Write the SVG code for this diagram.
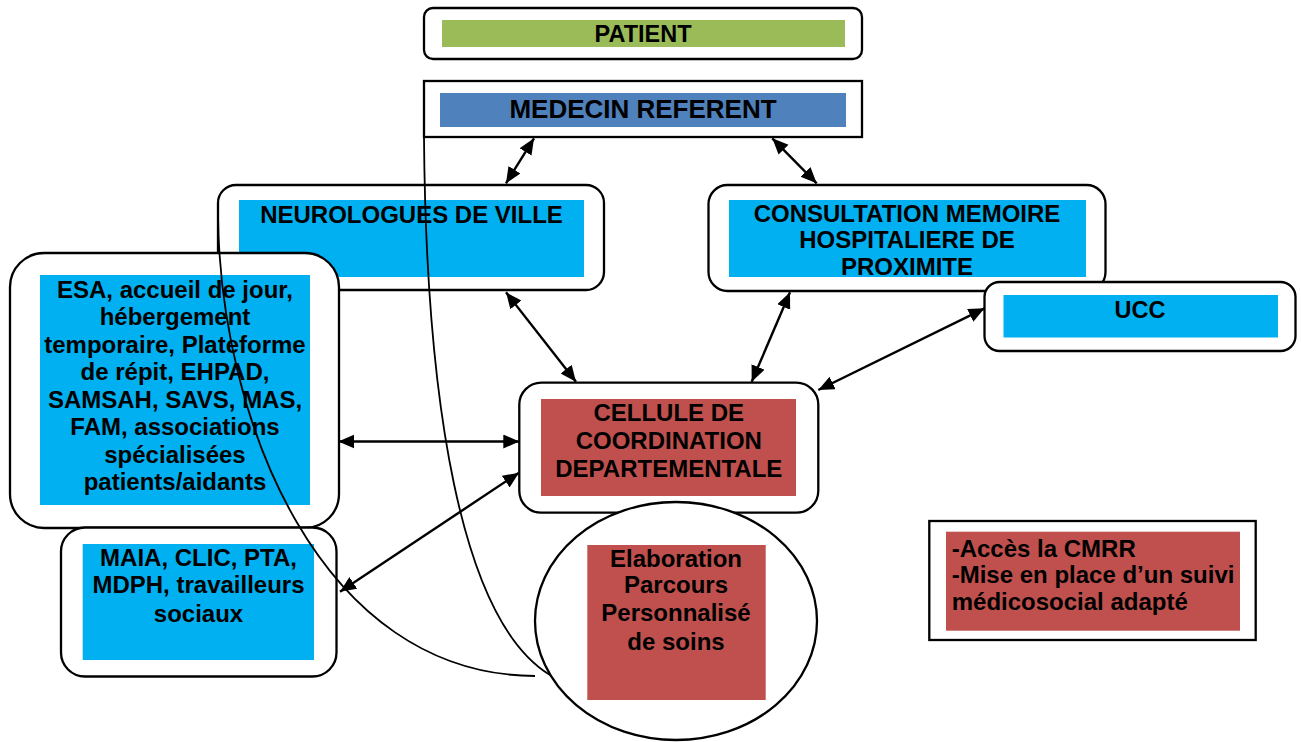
<svg xmlns="http://www.w3.org/2000/svg" width="1301" height="742" viewBox="0 0 1301 742">
<defs>
<marker id="ah" markerUnits="userSpaceOnUse" markerWidth="17" markerHeight="15" refX="16" refY="7" orient="auto-start-reverse">
<path d="M0,0 L16,7 L0,14 z" fill="#000"/>
</marker>
<style>
.box{fill:#fff;stroke:#000;stroke-width:2.3}
.t{font-family:"Liberation Sans",Arial,sans-serif;font-weight:bold;font-size:24px;fill:#000;text-anchor:middle}
.l{text-anchor:start}
.cy{fill:#00B0F0}
.rd{fill:#C0504D}
.arr{stroke:#000;stroke-width:2.4;fill:none;marker-start:url(#ah);marker-end:url(#ah)}
.crv{stroke:#000;stroke-width:1.8;fill:none}
</style>
</defs>
<rect width="1301" height="742" fill="#fff"/>
<g id="patient">
<rect class="box" x="424" y="8" width="438" height="51" rx="9"/>
<rect x="442" y="20" width="403" height="27" fill="#9BBB59"/>
<text class="t" x="643" y="42" style="font-size:23.5px">PATIENT</text>
</g>
<g id="medecin">
<rect class="box" x="424" y="81" width="438" height="56"/>
<rect x="440" y="93" width="406" height="34" fill="#4F81BD"/>
<text class="t" x="643" y="118" style="font-size:26px">MEDECIN REFERENT</text>
</g>
<g id="neurologues">
<rect class="box" x="218" y="185" width="386" height="105" rx="18"/>
<rect class="cy" x="239" y="200" width="345" height="77"/>
<text class="t" x="411.5" y="222.5">NEUROLOGUES DE VILLE</text>
</g>
<g id="consultation">
<rect class="box" x="708.5" y="185" width="397" height="106" rx="19"/>
<rect class="cy" x="729" y="200" width="357" height="77"/>
<text class="t" x="907" y="221.7">CONSULTATION MEMOIRE</text>
<text class="t" x="907" y="248.3">HOSPITALIERE DE</text>
<text class="t" x="907" y="275">PROXIMITE</text>
</g>
<g id="ucc">
<rect class="box" x="984.5" y="282" width="311" height="69" rx="15"/>
<rect class="cy" x="1003.5" y="295" width="274.5" height="42.5"/>
<text class="t" x="1140" y="317.5" style="font-size:23.5px">UCC</text>
</g>
<g id="esa">
<rect class="box" x="10" y="253" width="329" height="275" rx="34"/>
<rect class="cy" x="40" y="275" width="270" height="230"/>
<text class="t" x="175" y="297.7">ESA, accueil de jour,</text>
<text class="t" x="175" y="325.2">hébergement</text>
<text class="t" x="175" y="352.6">temporaire, Plateforme</text>
<text class="t" x="175" y="380.1">de répit, EHPAD,</text>
<text class="t" x="175" y="407.6">SAMSAH, SAVS, MAS,</text>
<text class="t" x="175" y="435.1">FAM, associations</text>
<text class="t" x="175" y="462.6">spécialisées</text>
<text class="t" x="175" y="490">patients/aidants</text>
</g>
<g id="maia">
<rect class="box" x="61" y="527.5" width="275.5" height="149" rx="24"/>
<rect class="cy" x="82.7" y="544" width="231.3" height="116"/>
<text class="t" x="198.5" y="565.7">MAIA, CLIC, PTA,</text>
<text class="t" x="198.5" y="593.3">MDPH, travailleurs</text>
<text class="t" x="198.5" y="621.7">sociaux</text>
</g>
<g id="cellule">
<rect class="box" x="519.3" y="382.7" width="299" height="130" rx="22"/>
<rect class="rd" x="541" y="399" width="255" height="97"/>
<text class="t" x="668.8" y="420.7">CELLULE DE</text>
<text class="t" x="668.8" y="449.3">COORDINATION</text>
<text class="t" x="668.8" y="477.3">DEPARTEMENTALE</text>
</g>
<g id="parcours">
<ellipse class="box" cx="676" cy="621" rx="141" ry="119"/>
<rect class="rd" x="587.3" y="545" width="178.4" height="155"/>
<text class="t" x="676" y="566.7">Elaboration</text>
<text class="t" x="676" y="593">Parcours</text>
<text class="t" x="676" y="621.3">Personnalisé</text>
<text class="t" x="676" y="650">de soins</text>
</g>
<g id="cmrr">
<rect class="box" x="929.3" y="521" width="326.4" height="119"/>
<rect class="rd" x="946" y="531.7" width="294" height="99"/>
<text class="t l" x="951.7" y="556.7">-Accès la CMRR</text>
<text class="t l" x="951.7" y="583.3">-Mise en place d’un suivi</text>
<text class="t l" x="951.7" y="610">médicosocial adapté</text>
</g>
<g id="connectors">
<path class="crv" d="M424,137 C426,400 460,620 550,675"/>
<path class="crv" d="M218,215 C220,420 320,675 535,676"/>
<line class="arr" x1="534" y1="138.3" x2="506" y2="183.3"/>
<line class="arr" x1="772.3" y1="138.3" x2="816.7" y2="183.3"/>
<line class="arr" x1="506" y1="292.3" x2="576" y2="381.7"/>
<line class="arr" x1="790" y1="292.3" x2="751.7" y2="381.7"/>
<line class="arr" x1="984.6" y1="308.3" x2="818.3" y2="390"/>
<line class="arr" x1="338.3" y1="441.5" x2="519.3" y2="441.5"/>
<line class="arr" x1="519" y1="472.7" x2="340" y2="591.7"/>
</g>
</svg>
